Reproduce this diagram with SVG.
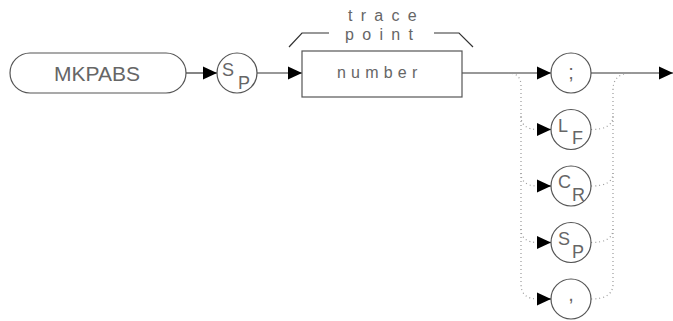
<svg xmlns="http://www.w3.org/2000/svg" width="673" height="321" viewBox="0 0 673 321">
<style>
.ln{fill:none;stroke:#333;stroke-width:1.2}
.dot{fill:none;stroke:#999;stroke-width:1.2;stroke-dasharray:1 3}
.shp{fill:#fff;stroke:#555;stroke-width:1.2}
.t{font-family:"Liberation Sans",Arial,sans-serif;fill:#666}
</style>
<defs>
<marker id="ah" markerUnits="userSpaceOnUse" markerWidth="14" markerHeight="14" viewBox="0 0 13 12" refX="13" refY="6" orient="auto">
<polygon points="0,0 13,6 0,12" fill="#000"/>
</marker>
</defs>
<g id="connectors">
<path class="ln" d="M186 73H217" marker-end="url(#ah)"/>
<path class="ln" d="M257 73H302" marker-end="url(#ah)"/>
<path class="ln" d="M462 73H551" marker-end="url(#ah)"/>
<path class="ln" d="M591 73H673" marker-end="url(#ah)"/>
<path class="dot" d="M508 73Q521 73 521 86V284Q521 299 538 299"/>
<path class="dot" d="M521 116Q521 129.5 538 129.5"/>
<path class="dot" d="M521 173Q521 186 538 186"/>
<path class="dot" d="M521 229Q521 242.5 538 242.5"/>
<path class="dot" d="M632 73Q613 73 613 90V284Q613 299 591 299"/>
<path class="dot" d="M591 129.5Q613 129.5 613 116"/>
<path class="dot" d="M591 186Q613 186 613 173"/>
<path class="dot" d="M591 242.5Q613 242.5 613 229"/>
<path class="ln" d="M537 129.5H551" marker-end="url(#ah)"/>
<path class="ln" d="M537 186H551" marker-end="url(#ah)"/>
<path class="ln" d="M537 242.5H551" marker-end="url(#ah)"/>
<path class="ln" d="M537 299H551" marker-end="url(#ah)"/>
</g>
<g id="mkpabs">
<rect class="shp" x="10" y="53" width="176" height="40" rx="20" ry="20"/>
<text class="t" x="97" y="81" font-size="21" text-anchor="middle">MKPABS</text>
</g>
<g id="sp1">
<circle class="shp" cx="237" cy="73" r="20"/>
<text class="t" x="222" y="76" font-size="18">S</text>
<text class="t" x="238" y="89" font-size="18">P</text>
</g>
<g id="number">
<path class="ln" d="M289 47L302 33H329M434 33H459L473 47" stroke="#444"/>
<text class="t" x="348" y="21" font-size="16" letter-spacing="8.3">trace</text>
<text class="t" x="345" y="40" font-size="16" letter-spacing="8.3">point</text>
<rect class="shp" x="302" y="51" width="160" height="46"/>
<text class="t" x="337" y="78" font-size="16" letter-spacing="5.2">number</text>
</g>
<g id="semicolon">
<circle class="shp" cx="571" cy="73" r="20"/>
<text class="t" x="571" y="79" font-size="20" text-anchor="middle">;</text>
</g>
<g id="lf">
<circle class="shp" cx="571" cy="129.5" r="20"/>
<text class="t" x="558" y="132" font-size="18">L</text>
<text class="t" x="572" y="144" font-size="18">F</text>
</g>
<g id="cr">
<circle class="shp" cx="571" cy="186" r="20"/>
<text class="t" x="558" y="188" font-size="18">C</text>
<text class="t" x="572" y="201" font-size="18">R</text>
</g>
<g id="sp2">
<circle class="shp" cx="571" cy="242.5" r="20"/>
<text class="t" x="558" y="245" font-size="18">S</text>
<text class="t" x="572" y="258" font-size="18">P</text>
</g>
<g id="comma">
<circle class="shp" cx="571" cy="299" r="20"/>
<text class="t" x="571" y="301" font-size="20" text-anchor="middle">,</text>
</g>
</svg>
